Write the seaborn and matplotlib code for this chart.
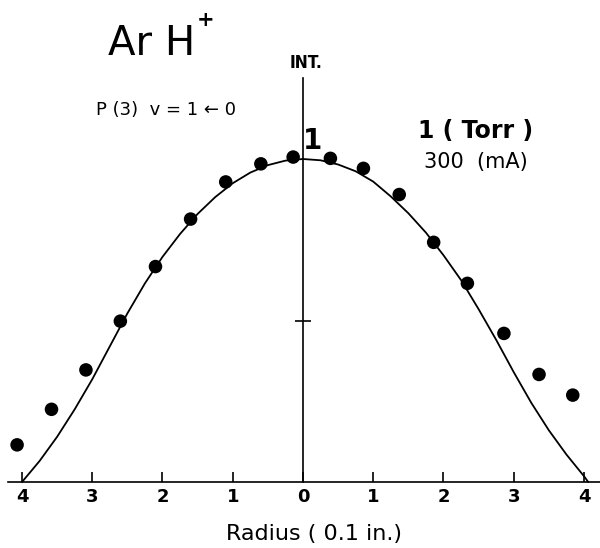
import matplotlib
matplotlib.use("Agg")
import matplotlib.pyplot as plt
import seaborn as sns
import pandas as pd

# Measured intensity profile (radius in units of 0.1 in., intensity normalised to 1 on axis)
radius_pts = [-4.07, -3.58, -3.09, -2.60, -2.10, -1.60, -1.10, -0.60, -0.14,
              0.39, 0.86, 1.37, 1.86, 2.34, 2.86, 3.36, 3.84]
intensity_pts = [0.115, 0.225, 0.347, 0.498, 0.667, 0.814, 0.929, 0.985, 1.006,
                 1.002, 0.971, 0.890, 0.742, 0.615, 0.460, 0.333, 0.269]

# Calculated profile
radius_curve = [-4.00, -3.75, -3.50, -3.25, -3.00, -2.75, -2.50, -2.25, -2.00,
                -1.75, -1.50, -1.25, -1.00, -0.75, -0.50, -0.25, 0.00,
                0.25, 0.50, 0.75, 1.00, 1.25, 1.50, 1.75, 2.00, 2.25, 2.50,
                2.75, 3.00, 3.25, 3.50, 3.75, 4.00, 4.06]
intensity_curve = [0.000, 0.065, 0.140, 0.225, 0.318, 0.420, 0.522, 0.615, 0.697,
                   0.768, 0.830, 0.882, 0.925, 0.958, 0.981, 0.995, 1.000,
                   0.996, 0.983, 0.962, 0.930, 0.884, 0.832, 0.772, 0.702, 0.625,
                   0.535, 0.440, 0.340, 0.245, 0.160, 0.085, 0.018, 0.000]

tick_values = [-4, -3, -2, -1, 0, 1, 2, 3, 4]
tick_labels = ["4", "3", "2", "1", "0", "1", "2", "3", "4"]

pts = pd.DataFrame({"r": radius_pts, "I": intensity_pts})
curve = pd.DataFrame({"r": radius_curve, "I": intensity_curve})

sns.set_theme(style="white")
plt.rcParams["font.family"] = ["DejaVu Sans"]
plt.rcParams["text.color"] = "black"
plt.rcParams["axes.labelcolor"] = "black"
plt.rcParams["xtick.color"] = "black"
plt.rcParams["ytick.color"] = "black"

W, H = 600, 548
fig = plt.figure(figsize=(W / 100, H / 100), dpi=100)
ax = fig.add_axes([0, 0, 1, 1])
ax.patch.set_alpha(0)

# pixel geometry: x = 0 at 303 px, 70.25 px per unit; y = 0 at 482 px, 323 px per unit
x0, sx = 303.0, 70.25
y0, sy = 482.0, 323.0
ax.set_xlim(-x0 / sx, (W - x0) / sx)
ax.set_ylim(-(H - y0) / sy, y0 / sy)

sns.lineplot(data=curve, x="r", y="I", ax=ax, color="black", linewidth=1.3,
             sort=False, estimator=None)
sns.scatterplot(data=pts, x="r", y="I", ax=ax, color="black", s=95,
                edgecolor="none", zorder=3)

# axes drawn through the origin
for side in ("top", "right"):
    ax.spines[side].set_visible(False)
ax.spines["bottom"].set_position(("data", 0))
ax.spines["bottom"].set_bounds((8 - x0) / sx, (W - x0) / sx)
ax.spines["left"].set_position(("data", 0))
ax.spines["left"].set_bounds(0, (y0 - 78) / sy)
for side in ("bottom", "left"):
    ax.spines[side].set_color("black")
    ax.spines[side].set_linewidth(1.2)

ax.set_xticks(tick_values)
ax.set_xticklabels(tick_labels, fontsize=13, fontweight="bold")
ax.tick_params(axis="x", direction="in", length=7, width=1.2, pad=4.5,
               colors="black", bottom=True)
ax.set_yticks([0.5])
ax.set_yticklabels([""])
ax.tick_params(axis="y", direction="inout", length=12, width=1.2, left=True)

ax.set_xlabel("Radius ( 0.1 in.)", fontsize=16, color="black")
ax.xaxis.set_label_coords(314 / W, 1 - 524 / H)
ax.set_ylabel("")


def px(x, y):
    return x / W, 1 - y / H


fig.text(*px(152, 44), "Ar H", fontsize=29, ha="center", va="center")
fig.text(*px(206, 20), "+", fontsize=15, fontweight="bold", ha="center", va="center")
fig.text(*px(166, 110), "P (3)  v = 1 \u2190 0", fontsize=13, ha="center", va="center")
fig.text(*px(306, 63), "INT.", fontsize=12.5, fontweight="bold",
         fontstretch="condensed", ha="center", va="center")
fig.text(*px(313, 141), "1", fontsize=20, fontweight="bold", ha="center", va="center")
fig.text(*px(476, 131), "1 ( Torr )", fontsize=17, fontweight="bold",
         ha="center", va="center")
fig.text(*px(476, 162), "300  (mA)", fontsize=15, ha="center", va="center")

fig.savefig("out.png", dpi=100, facecolor="white")
